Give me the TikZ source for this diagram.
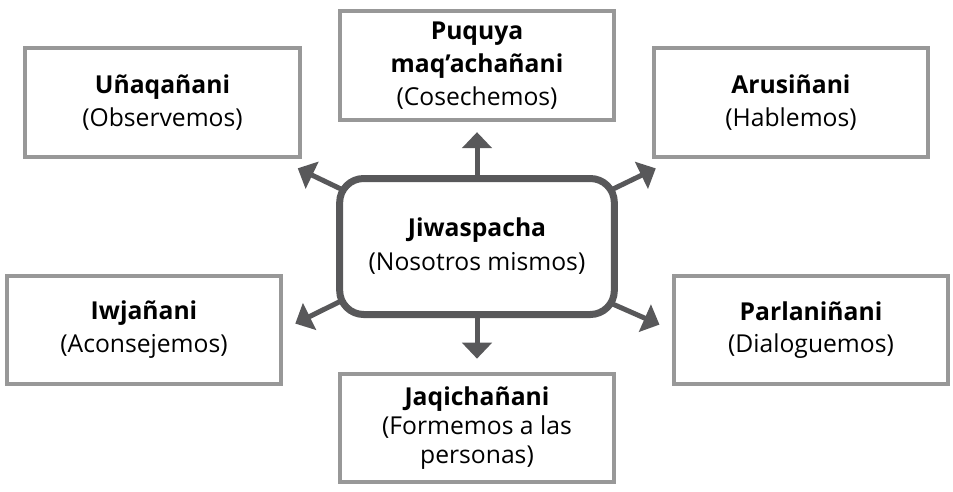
\documentclass[tikz,border=0pt]{standalone}
\usepackage{fontspec}
\setmainfont{Open Sans}
\usetikzlibrary{arrows.meta}
\definecolor{rimgray}{RGB}{152,152,152}
\definecolor{coregray}{RGB}{88,88,90}
\tikzset{
  opt/.style={draw=rimgray, line width=3pt, minimum width=206pt, minimum height=81pt,
    align=center, inner sep=0pt, font=\fontsize{18.5}{24.5}\selectfont},
  core/.style={draw=coregray, line width=5.25pt, rounded corners=18pt, fill=white,
    minimum width=206pt, minimum height=102pt, align=center, inner sep=0pt,
    font=\fontsize{18.5}{25.5}\selectfont},
  arr/.style={draw=coregray, line width=3.75pt, shorten <=-4pt,
    -{Triangle[width=22pt,length=12pt]}},
}

\begin{document}
\begin{tikzpicture}[x=0.75pt, y=-0.75pt]
    \useasboundingbox (0,0) rectangle (953,492);

    % the centre
    \node[core] (jiw) at (477,246.5) {\textbf{Jiwaspacha}\\(Nosotros mismos)};

    % the six actions round it
    \node[opt] (una) at (162.5,102.5) {\textbf{Uñaqañani}\\(Observemos)};
    \node[opt] (puq) at (477,65.5) {\textbf{Puquya}\\\textbf{maq’achañani}\\(Cosechemos)};
    \node[opt] (aru) at (791,102.5) {\textbf{Arusiñani}\\(Hablemos)};
    \node[opt] (iwj) at (144,329.5) {\textbf{Iwjañani}\\(Aconsejemos)};
    \node[opt] (par) at (811,330) {\textbf{Parlaniñani}\\(Dialoguemos)};
    \node[opt, font=\fontsize{18.5}{22}\selectfont] (jaq) at (477,428) {\textbf{Jaqichañani}\\(Formemos a las\\personas)};

    % jiw to una
    \draw[arr, shorten >=17pt] (jiw.157) -- (una.334);
    % jiw to puq
    \draw[arr, shorten >=8pt] (jiw.north) -- (puq.south);
    % jiw to aru
    \draw[arr, shorten >=17pt] (jiw.23) -- (aru.206);
    % jiw to iwj
    \draw[arr, shorten >=10pt] (jiw.202.8) -- (iwj.east);
    % jiw to par
    \draw[arr, shorten >=10pt] (jiw.337.2) -- (par.west);
    % jiw to jaq
    \draw[arr, shorten >=10pt] (jiw.south) -- (jaq.north);
\end{tikzpicture}
\end{document}
